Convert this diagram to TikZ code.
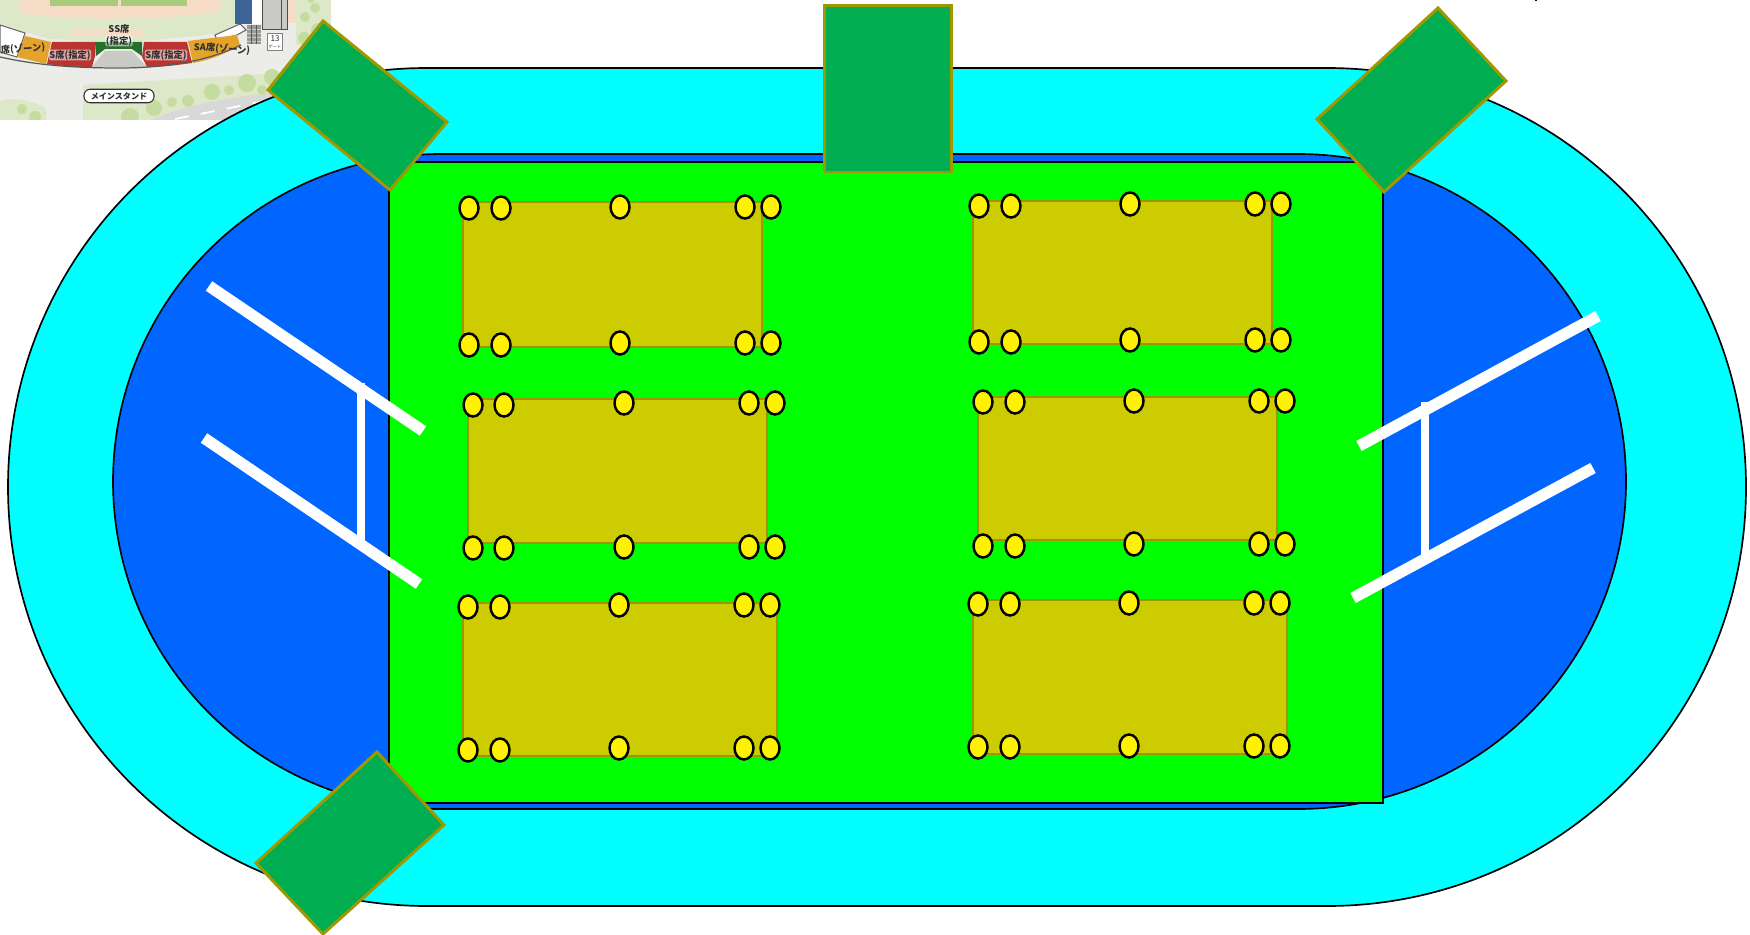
\documentclass[tikz,border=0pt]{standalone}
\usepackage{fontspec}
\newfontfamily\cjkjp{Noto Sans CJK JP}
\definecolor{trackcyan}{HTML}{00FFFF}
\definecolor{infieldblue}{HTML}{0066FF}
\definecolor{fieldgreen}{HTML}{00FF00}
\definecolor{standgreen}{HTML}{00AD50}
\definecolor{olive}{HTML}{A09800}
\definecolor{blockfill}{HTML}{CDCC00}
\definecolor{blockedge}{HTML}{9E9600}
\definecolor{mapgrey}{HTML}{ECECE8}
\definecolor{mapgreen}{HTML}{DCE8C8}
\definecolor{maptree}{HTML}{C4DCA0}
\definecolor{mapsalmon}{HTML}{F6DCC6}
\definecolor{mappitch}{HTML}{A8CC7C}
\definecolor{mapred}{HTML}{BC3430}
\definecolor{maporange}{HTML}{E4A42C}
\definecolor{mapdark}{HTML}{24702C}
\definecolor{mapblue}{HTML}{3C6496}
\definecolor{maproad}{HTML}{D8D8D8}
\definecolor{maptext}{HTML}{303030}
\tikzset{
  x=0.02cm, y=-0.02cm,
  trackline/.style={draw=black, line width=0.95pt},
  standbox/.style={draw=olive, fill=standgreen, line width=1.7pt, line join=miter},
  block/.style={draw=blockedge, fill=blockfill, line width=1.5pt},
  seatdot/.style={draw=black, fill=yellow, line width=1.4pt},
  whitebar/.style={draw=white, line width=6.5pt},
  whiterung/.style={draw=white, line width=4.6pt},
  maplabel/.style={font=\cjkjp\bfseries\fontsize{5.3}{6.2}\selectfont, text=maptext, inner sep=0.3pt, align=center},
  halolabel/.style={maplabel, fill=white, fill opacity=0.55, text opacity=1, rounded corners=1pt},
  tree/.style={fill=maptree, draw=none},
}
\newcommand{\dotrowb}[7]{%
  \foreach \xx in {#1,#2}{\draw[seatdot] (\xx,#6) ellipse [x radius=9.5, y radius=11.5];}
  \foreach \xx in {#3,#4,#5}{\draw[seatdot] (\xx,#7) ellipse [x radius=9.5, y radius=11.5];}
}
\begin{document}
\begin{tikzpicture}
\useasboundingbox (0,0) rectangle (1750,935);
\fill[white] (0,0) rectangle (1750,935);

% --- seat-map thumbnail ---
\begin{scope}
\clip (0,0) rectangle (331,120);
\fill[mapgrey] (0,0) rectangle (331,120);
\fill[mapgreen] (0,0) -- (296,0) -- (296,22) -- (240,24) -- (215,34) -- (142,41) -- (95,41) -- (50,39) -- (0,24) -- cycle;
\fill[mapgreen] (296,0) rectangle (331,45);
\fill[mapsalmon] (20,0) -- (222,0) -- (222,10) .. controls (190,20) and (60,22) .. (20,12) -- cycle;
\fill[mapsalmon] (70,29) rectangle (143,36);
\fill[mappitch] (50,0) rectangle (118,6);
\fill[mappitch] (121,0) rectangle (187,6);
% right-hand buildings
\fill[mapsalmon] (285,0) rectangle (296,23);
\fill[mapblue] (235,0) rectangle (252,24);
\fill[white] (252,0) rectangle (262,24);
\fill[mapgrey!85!black, draw=black!70, line width=0.5pt] (262,-1) rectangle (287,29);
\draw[black!70, line width=0.5pt] (281,-1) -- (281,29);
\fill[black!40] (247,25) rectangle (261,44);
\foreach \yy in {29,33,37,41}{\draw[black!20, line width=0.3pt] (247,\yy) -- (261,\yy);}
\foreach \xx in {251,256}{\draw[black!65, line width=0.3pt] (\xx,25) -- (\xx,44);}
\node[draw=black!50, fill=white, line width=0.4pt, minimum width=0.3cm, minimum height=0.33cm, inner sep=0pt, align=center, text=maptext, font=\cjkjp\fontsize{4.6}{4.8}\selectfont] (gate) at (275,42) {13\\[-1pt]{\fontsize{2.4}{2.6}\selectfont ゲート}};
% seat bands
\fill[white, draw=black!60, line width=0.6pt] (0,25) -- (25,33) -- (17,57) -- (0,52) -- cycle;
\fill[white, draw=black!60, line width=0.6pt] (215,35) -- (240,24) -- (246,30) -- (237,35) -- (217,40) -- cycle;
\fill[maporange] (25,36) -- (51,42) -- (46,64) -- (17,57) -- cycle;
\fill[mapred] (52,42) -- (95,42) -- (95,56) -- (92,67) .. controls (75,67) and (60,66) .. (47,64) -- cycle;
\fill[mapdark] (95,42) -- (142,42) -- (142,56) -- (132,49) -- (105,49) -- (96,56) -- cycle;
\fill[mapgrey!85!black] (105,51) -- (132,51) -- (147,67) -- (92,67) -- cycle;
\fill[mapred] (144,42) -- (187,42) -- (192,63) .. controls (178,65) and (162,67) .. (147,67) -- (142,57) -- cycle;
\fill[maporange] (188,41) -- (237,35) -- (240,45) .. controls (225,54) and (210,60) .. (193,63) -- cycle;
\draw[black!65, line width=0.7pt] (0,57) .. controls (40,66) and (80,68) .. (119,68) .. controls (170,68) and (210,60) .. (241,45);
% trees and road
\fill[mapgreen] (83,85) -- (331,70) -- (331,120) -- (83,120) -- cycle;
\fill[mapgreen] (0,102) .. controls (10,96) and (30,100) .. (46,108) -- (46,120) -- (0,120) -- cycle;
\fill[maproad] (150,120) .. controls (185,105) and (230,97) .. (275,93) -- (331,93) -- (331,120) -- cycle;
\draw[white, line width=1pt, dash pattern=on 8pt off 7pt] (175,119) -- (270,100);
\foreach \xx/\yy/\rr in {247/83/9,272/77/8,212/92/8,229/90/5,172/102/5,188/101/6,154/108/8,130/117/9,35/117/6,22/109/5,262/90/5,305/17/5,315/8/5,304/38/6,318/30/7,311/-1/4}{\fill[tree] (\xx,\yy) circle [radius=\rr];}
% labels
\node[maplabel] (ss1) at (119,29) {SS席};
\node[halolabel] (ss2) at (119,41) {(指定)};
\node[halolabel] (s1) at (70,55) {S席(指定)};
\node[halolabel] (s2) at (166,55) {S席(指定)};
\node[maplabel, rotate=-4] (sa) at (222,49) {SA席(ゾーン)};
\node[maplabel, rotate=4] (sz) at (23,49) {席(ゾーン)};
\node[draw=maptext, fill=white, line width=0.6pt, rounded corners=3.5pt, minimum width=1.4cm, minimum height=0.27cm, inner sep=0pt, text=maptext, font=\cjkjp\bfseries\fontsize{4.6}{5}\selectfont] (main) at (119,96) {メインスタンド};
\end{scope}
% tiny mark at the top edge
\fill[black] (1535,0) rectangle (1537,1.5);

% --- stadium ---
\draw[trackline, fill=trackcyan, rounded corners=8.38cm] (8,68) rectangle (1746,906);
\draw[trackline, fill=infieldblue, rounded corners=6.56cm] (113,154) rectangle (1626,809);
\draw[trackline, fill=fieldgreen] (389,162) rectangle (1383,803);

% --- white goals ---
\draw[whitebar] (209,286) -- (423,431);
\draw[whitebar] (204,438) -- (419,584);
\draw[whiterung] (361,383) -- (361,542);
\draw[whitebar] (1598,316) -- (1359,446);
\draw[whitebar] (1593,468) -- (1353,598);
\draw[whiterung] (1425,402) -- (1425,557);

% --- blocks ---
\draw[block] (463,202) rectangle (762,347);
\draw[block] (468,399) rectangle (767,543);
\draw[block] (463,603) rectangle (777,756);
\draw[block] (973,201) rectangle (1272,344);
\draw[block] (978,397) rectangle (1277,540);
\draw[block] (973,600) rectangle (1287,754);

% --- seat dots ---
\dotrowb{469}{501}{620}{745}{771}{208}{207}
\dotrowb{469}{501}{620}{745}{771}{345}{343}
\dotrowb{473}{504}{624}{749}{775}{405}{403}
\dotrowb{473}{504}{624}{749}{775}{548}{547}
\dotrowb{468}{500}{619}{744}{770}{607}{605}
\dotrowb{468}{500}{619}{744}{770}{750}{748}
\dotrowb{979}{1011}{1130}{1255}{1281}{206}{204}
\dotrowb{979}{1011}{1130}{1255}{1281}{342}{340}
\dotrowb{983}{1015}{1134}{1259}{1285}{402}{401}
\dotrowb{983}{1015}{1134}{1259}{1285}{546}{544}
\dotrowb{978}{1010}{1129}{1254}{1280}{604}{603}
\dotrowb{978}{1010}{1129}{1254}{1280}{747}{746}

% --- stands ---
\draw[standbox] (323,21) -- (447,122) -- (390,190) -- (268,90) -- cycle;
\draw[standbox] (824,6) rectangle (951,172);
\draw[standbox] (1438,8) -- (1506,81) -- (1384,192) -- (1317,119) -- cycle;
\draw[standbox] (377,752) -- (444,825) -- (323,934) -- (256,863) -- cycle;
\end{tikzpicture}
\end{document}
